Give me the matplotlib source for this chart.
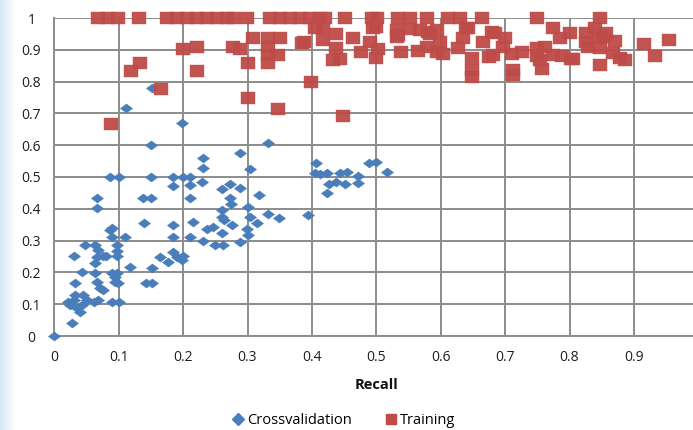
import numpy as np
import matplotlib
matplotlib.use("Agg")
import matplotlib.pyplot as plt
from matplotlib.path import Path
from matplotlib.lines import Line2D
from matplotlib.colors import LinearSegmentedColormap

# ---------------- data ----------------
cv_recall = [0, .027, .024, .03, .022, .035, .04, .032, .045, .05, .061, .043, .068, .089, .101,
             .032, .043, .066, .071, .076, .063, .063, .089, .097, .094, .099, .094, .118, .03, .066,
             .076, .081, .097, .097, .097, .048, .063, .068, .089, .11, .086, .151, .164, .177, .185,
             .19, .198, .143, .151, .185, .211, .151, .111, .199, .15, .086, .101, .15, .185, .2,
             .211, .185, .21, .067, .067, .138, .15, .21, .139, .185, .216, .089, .332, .289, .231,
             .231, .304, .23, .26, .273, .288, .318, .273, .275, .301, .26, .261, .304, .332, .349,
             .394, .263, .276, .314, .237, .247, .299, .301, .26, .231, .25, .262, .288, .2, .406,
             .489, .5, .517, .405, .423, .443, .454, .472, .472, .451, .438, .427, .424, .413]
cv_precision = [0, .04, .097, .113, .108, .087, .076, .129, .129, .113, .108, .097, .113, .108, .108,
                .168, .202, .171, .15, .145, .199, .229, .197, .197, .171, .166, .187, .218, .252, .249,
                .252, .252, .252, .268, .286, .286, .286, .27, .312, .31, .333, .213, .249, .234, .265,
                .249, .239, .168, .168, .31, .31, .779, .716, .669, .601, .501, .501, .501, .501, .501,
                .501, .472, .475, .433, .402, .433, .433, .433, .354, .349, .359, .339, .606, .574, .559,
                .527, .525, .485, .462, .478, .464, .442, .433, .415, .405, .396, .373, .375, .384, .37,
                .381, .365, .349, .354, .336, .344, .336, .318, .323, .299, .286, .286, .295, .252, .545,
                .543, .547, .515, .512, .512, .514, .517, .503, .482, .478, .485, .478, .451, .509]

tr_recall = [.068, .083, .099, .132, .175, .191, .206, .222, .237, .253, .268, .277, .299, .335, .35,
             .366, .381, .397, .412, .42, .451, .493, .501, .534, .552, .579, .611, .63, .664, .749, .847,
             .309, .332, .35, .332, .2, .221, .278, .289, .332, .348, .332, .3, .133, .119, .221, .166,
             .3, .348, .384, .088, .398, .449, .405, .418, .387, .418, .438, .438, .432, .444, .464,
             .476, .49, .5, .502, .5, .532, .532, .552, .538, .565, .581, .594, .578, .599, .594, .604,
             .627, .635, .643, .648, .648, .648, .665, .675, .68, .684, .7, .697, .681, .71, .726, .713,
             .713, .749, .749, .757, .762, .775, .785, .775, .788, .8, .803, .826, .829, .826, .84, .847,
             .857, .847, .847, .87, .868, .878, .915, .933, .954, .495, .534, .568, .584, .64, .754, .806,
             .852, .886]
tr_precision = [1, 1, 1, 1, 1, 1, 1, 1, 1, 1, 1, 1, 1, 1, 1,
                1, 1, 1, 1, 1, 1, 1, 1, 1, 1, 1, 1, 1, 1, 1, 1,
                .936, .936, .936, .91, .902, .91, .91, .902, .884, .884, .858, .858, .858, .833, .833, .776,
                .75, .714, .922, .666, .8, .692, .967, .969, .923, .93, .95, .905, .868, .871, .936,
                .894, .923, .973, .902, .875, .962, .94, .965, .892, .896, .957, .962, .91, .925, .894, .887,
                .906, .936, .967, .874, .837, .816, .923, .878, .956, .952, .936, .91, .884, .887, .892, .836,
                .821, .906, .88, .84, .91, .967, .936, .884, .88, .952, .871, .952, .91, .925, .967, .936,
                .952, .905, .852, .927, .889, .874, .917, .88, .93, .967, .945, .962, .951, .97, .868, .87,
                .94, .868]

x_ticks = [0, .1, .2, .3, .4, .5, .6, .7, .8, .9, 1]
y_ticks = [0, .1, .2, .3, .4, .5, .6, .7, .8, .9, 1]
x_title = "Recall"
series_names = ["Crossvalidation", "Training"]

# ---------------- styling ----------------
BLUE = "#4A7EBB"
RED = "#BE4B48"
GRID = "#8C8C8C"
FONT = ["Open Sans", "DejaVu Sans"]

diamond = Path([(-1, 0), (0, 0.75), (1, 0), (0, -0.75), (-1, 0)],
               [Path.MOVETO, Path.LINETO, Path.LINETO, Path.LINETO, Path.CLOSEPOLY])
square = Path([(-1, -0.85), (1, -0.85), (1, 0.85), (-1, 0.85), (-1, -0.85)],
              [Path.MOVETO, Path.LINETO, Path.LINETO, Path.LINETO, Path.CLOSEPOLY])

W, H = 693, 430
fig = plt.figure(figsize=(W / 100, H / 100), dpi=100)
fig.patch.set_facecolor("white")

# light blue slide edge on the left
grad_ax = fig.add_axes([0, 0, 16 / W, 1])
grad = np.linspace(0, 1, 64)[None, :]
cmap = LinearSegmentedColormap.from_list("edge", ["#D4E8F6", "#FFFFFF"])
grad_ax.imshow(grad, aspect="auto", cmap=cmap, extent=[0, 1, 0, 1])
grad_ax.axis("off")

x0, x1 = 54.3, 698.3
y0, y1 = 336.0, 18.0
ax = fig.add_axes([x0 / W, (H - y0) / H, (x1 - x0) / W, (y0 - y1) / H])
ax.set_facecolor("none")

ax.plot(cv_recall, cv_precision, linestyle="none", marker=diamond, markersize=8.8,
        markerfacecolor=BLUE, markeredgecolor=BLUE, markeredgewidth=0.3, clip_on=False, zorder=3,
        label=series_names[0])
ax.plot(tr_recall, tr_precision, linestyle="none", marker=square, markersize=9.6,
        markerfacecolor=RED, markeredgecolor=RED, markeredgewidth=0.3, alpha=0.95, clip_on=False,
        zorder=4, label=series_names[1])

ax.set_xlim(0, 1)
ax.set_ylim(0, 1)
ax.set_xticks(x_ticks)
ax.set_yticks(y_ticks)
ax.set_xticklabels([f"{v:g}" for v in x_ticks])
ax.set_yticklabels([f"{v:g}" for v in y_ticks])
ax.grid(True, color=GRID, linewidth=1.4)
ax.set_axisbelow(True)
for s in ["top", "right"]:
    ax.spines[s].set_visible(False)
for s in ["left", "bottom"]:
    ax.spines[s].set_color(GRID)
    ax.spines[s].set_linewidth(1.4)

ax.tick_params(axis="both", length=0, labelsize=10, labelcolor="#1E1E1E")
ax.tick_params(axis="y", pad=16.5)
ax.tick_params(axis="x", pad=10)
for lbl in ax.get_yticklabels():
    lbl.set_horizontalalignment("center")
    lbl.set_fontfamily(FONT)
for lbl in ax.get_xticklabels():
    lbl.set_fontfamily(FONT)

ax.set_xlabel(x_title, fontsize=10.5, fontweight="bold", family=FONT, color="#111111")
ax.xaxis.set_label_coords(0.5, (y0 - 385) / (y0 - y1))
ax.xaxis.label.set_verticalalignment("center")

handles = [Line2D([], [], linestyle="none", marker="D", markersize=6.5, color=BLUE),
           Line2D([], [], linestyle="none", marker="s", markersize=7.5, color=RED)]
fig.legend(handles, series_names, loc="center", bbox_to_anchor=(343 / W, 1 - 421 / H),
           ncol=2, frameon=False, handletextpad=0.1, columnspacing=2.2, handlelength=1.0,
           prop={"family": FONT, "size": 10.5})

fig.savefig("out.png", dpi=100)
